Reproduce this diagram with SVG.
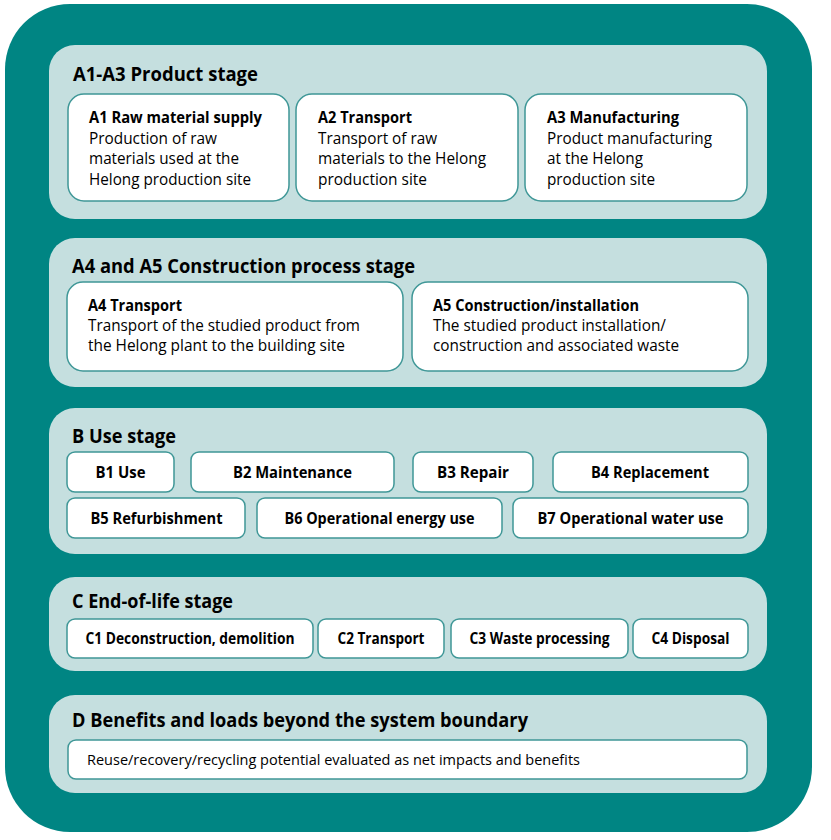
<svg xmlns="http://www.w3.org/2000/svg" width="831" height="840" viewBox="0 0 831 840">
<style>
.bg{fill:#008583}
.panel{fill:#c5dfdf}
.node{fill:#ffffff;stroke:#3f9797;stroke-width:1.5}
text{font-family:"Open Sans","Noto Sans","Liberation Sans",sans-serif;fill:#000000}
.pt{font-size:19px;font-weight:700}
.nt{font-size:16px;font-weight:700}
.bd{font-size:16px}
.lb{font-size:16px;font-weight:700;text-anchor:middle}
.dt{font-size:14.5px}
</style>
<rect x="0" y="0" width="831" height="840" fill="#ffffff"/>
<rect class="bg" x="5" y="4" width="807" height="828" rx="65"/>

<g id="stage-A1-A3">
<rect class="panel" x="49" y="45" width="718" height="174" rx="26"/>
<text class="pt" x="73" y="81" textLength="185" lengthAdjust="spacingAndGlyphs">A1-A3 Product stage</text>
</g>
<g id="A1">
<rect class="node" x="68" y="94" width="221" height="107" rx="16"/>
<text class="nt" x="89" y="123" textLength="173" lengthAdjust="spacingAndGlyphs">A1 Raw material supply</text>
<text class="bd" x="89" y="143.5" textLength="128" lengthAdjust="spacingAndGlyphs">Production of raw</text>
<text class="bd" x="89" y="164" textLength="150" lengthAdjust="spacingAndGlyphs">materials used at the</text>
<text class="bd" x="89" y="184.5" textLength="162" lengthAdjust="spacingAndGlyphs">Helong production site</text>
</g>
<g id="A2">
<rect class="node" x="296" y="94" width="222" height="107" rx="16"/>
<text class="nt" x="318" y="123" textLength="94" lengthAdjust="spacingAndGlyphs">A2 Transport</text>
<text class="bd" x="318" y="143.5" textLength="119" lengthAdjust="spacingAndGlyphs">Transport of raw</text>
<text class="bd" x="318" y="164" textLength="168" lengthAdjust="spacingAndGlyphs">materials to the Helong</text>
<text class="bd" x="318" y="184.5" textLength="109" lengthAdjust="spacingAndGlyphs">production site</text>
</g>
<g id="A3">
<rect class="node" x="525" y="94" width="222" height="107" rx="16"/>
<text class="nt" x="547" y="123" textLength="132" lengthAdjust="spacingAndGlyphs">A3 Manufacturing</text>
<text class="bd" x="547" y="143.5" textLength="165" lengthAdjust="spacingAndGlyphs">Product manufacturing</text>
<text class="bd" x="547" y="164" textLength="96" lengthAdjust="spacingAndGlyphs">at the Helong</text>
<text class="bd" x="547" y="184.5" textLength="108" lengthAdjust="spacingAndGlyphs">production site</text>
</g>

<g id="stage-A4-A5">
<rect class="panel" x="49" y="238" width="718" height="149" rx="26"/>
<text class="pt" x="72" y="273" textLength="343" lengthAdjust="spacingAndGlyphs">A4 and A5 Construction process stage</text>
</g>
<g id="A4">
<rect class="node" x="67" y="282" width="336" height="89" rx="16"/>
<text class="nt" x="88" y="311" textLength="94" lengthAdjust="spacingAndGlyphs">A4 Transport</text>
<text class="bd" x="88" y="331" textLength="272" lengthAdjust="spacingAndGlyphs">Transport of the studied product from</text>
<text class="bd" x="88" y="351" textLength="257" lengthAdjust="spacingAndGlyphs">the Helong plant to the building site</text>
</g>
<g id="A5">
<rect class="node" x="412" y="282" width="336" height="89" rx="16"/>
<text class="nt" x="433" y="311" textLength="206" lengthAdjust="spacingAndGlyphs">A5 Construction/installation</text>
<text class="bd" x="433" y="331" textLength="233" lengthAdjust="spacingAndGlyphs">The studied product installation/</text>
<text class="bd" x="433" y="351" textLength="246" lengthAdjust="spacingAndGlyphs">construction and associated waste</text>
</g>

<g id="stage-B">
<rect class="panel" x="49" y="408" width="718" height="146" rx="26"/>
<text class="pt" x="72" y="443" textLength="104" lengthAdjust="spacingAndGlyphs">B Use stage</text>
</g>
<g id="B1">
<rect class="node" x="67" y="452" width="107" height="40" rx="8"/>
<text class="lb" x="120.5" y="477.5" textLength="50" lengthAdjust="spacingAndGlyphs">B1 Use</text>
</g>
<g id="B2">
<rect class="node" x="191" y="452" width="203" height="40" rx="8"/>
<text class="lb" x="292.5" y="477.5" textLength="119" lengthAdjust="spacingAndGlyphs">B2 Maintenance</text>
</g>
<g id="B3">
<rect class="node" x="413" y="452" width="120" height="40" rx="8"/>
<text class="lb" x="473" y="477.5" textLength="72" lengthAdjust="spacingAndGlyphs">B3 Repair</text>
</g>
<g id="B4">
<rect class="node" x="553" y="452" width="195" height="40" rx="8"/>
<text class="lb" x="650" y="477.5" textLength="118" lengthAdjust="spacingAndGlyphs">B4 Replacement</text>
</g>
<g id="B5">
<rect class="node" x="67" y="498" width="178" height="40" rx="8"/>
<text class="lb" x="156.5" y="524" textLength="132" lengthAdjust="spacingAndGlyphs">B5 Refurbishment</text>
</g>
<g id="B6">
<rect class="node" x="257" y="498" width="245" height="40" rx="8"/>
<text class="lb" x="379.5" y="524" textLength="190" lengthAdjust="spacingAndGlyphs">B6 Operational energy use</text>
</g>
<g id="B7">
<rect class="node" x="513" y="498" width="235" height="40" rx="8"/>
<text class="lb" x="630.5" y="524" textLength="186" lengthAdjust="spacingAndGlyphs">B7 Operational water use</text>
</g>

<g id="stage-C">
<rect class="panel" x="49" y="577" width="718" height="94" rx="26"/>
<text class="pt" x="72" y="608" textLength="161" lengthAdjust="spacingAndGlyphs">C End-of-life stage</text>
</g>
<g id="C1">
<rect class="node" x="67" y="619" width="246" height="39" rx="8"/>
<text class="lb" x="190" y="644" textLength="209" lengthAdjust="spacingAndGlyphs">C1 Deconstruction, demolition</text>
</g>
<g id="C2">
<rect class="node" x="318" y="619" width="126" height="39" rx="8"/>
<text class="lb" x="381" y="644" textLength="87" lengthAdjust="spacingAndGlyphs">C2 Transport</text>
</g>
<g id="C3">
<rect class="node" x="451" y="619" width="177" height="39" rx="8"/>
<text class="lb" x="539.5" y="644" textLength="140" lengthAdjust="spacingAndGlyphs">C3 Waste processing</text>
</g>
<g id="C4">
<rect class="node" x="633" y="619" width="115" height="39" rx="8"/>
<text class="lb" x="690.5" y="644" textLength="78" lengthAdjust="spacingAndGlyphs">C4 Disposal</text>
</g>

<g id="stage-D">
<rect class="panel" x="49" y="695" width="718" height="98" rx="26"/>
<text class="pt" x="72" y="727" textLength="456" lengthAdjust="spacingAndGlyphs">D Benefits and loads beyond the system boundary</text>
</g>
<g id="D">
<rect class="node" x="68" y="740" width="679" height="39" rx="8"/>
<text class="dt" x="87" y="765" textLength="493" lengthAdjust="spacingAndGlyphs">Reuse/recovery/recycling potential evaluated as net impacts and benefits</text>
</g>
</svg>
